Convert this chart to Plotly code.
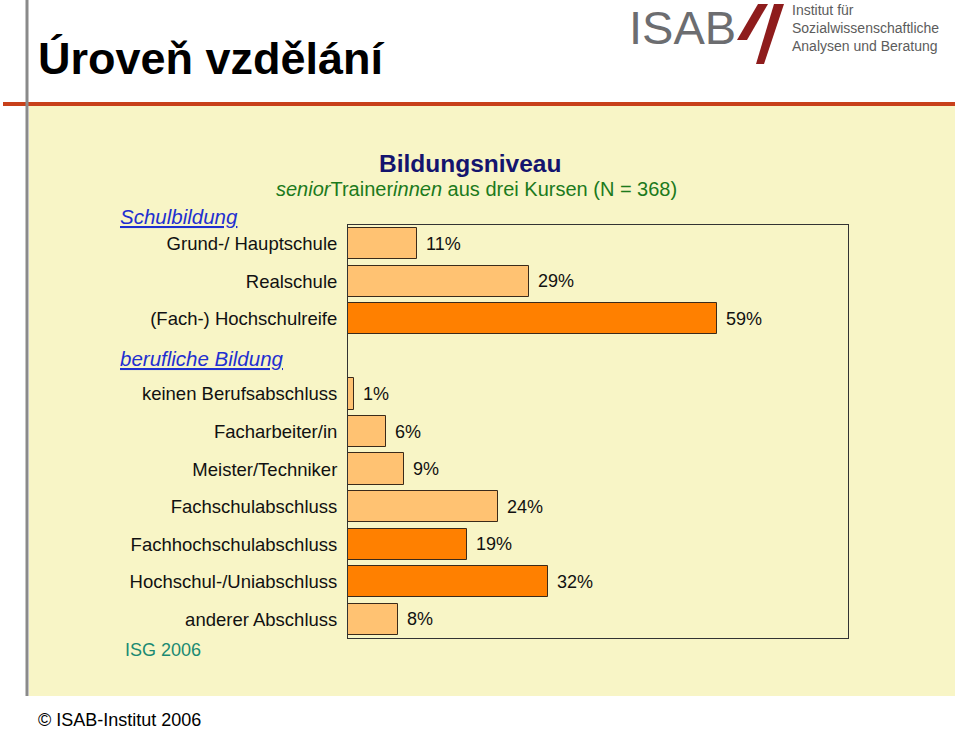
import plotly.graph_objects as go

# ---- data ----
categories = ["Grund-/ Hauptschule", "Realschule", "(Fach-) Hochschulreife",
              "keinen Berufsabschluss", "Facharbeiter/in", "Meister/Techniker",
              "Fachschulabschluss", "Fachhochschulabschluss", "Hochschul-/Uniabschluss",
              "anderer Abschluss"]
values = [11, 29, 59, 1, 6, 9, 24, 19, 32, 8]
slots = [0, 1, 2, 4, 5, 6, 7, 8, 9, 10]
highlight = [False, False, True, False, False, False, False, True, True, False]
section_headers = ["Schulbildung", "berufliche Bildung"]

W, H = 960, 729
L, R, T, B = 348, 848, 225, 638  # plot box in screen pixels

def px(x):
    return (x - L) / (R - L)

def py(y):
    return (B - y) / (B - T)

LIGHT = "#FFC272"
DARK = "#FF8000"
FONT = "Liberation Sans, Arial, sans-serif"

fig = go.Figure()
fig.add_trace(go.Bar(
    x=values, y=slots, orientation="h", width=0.83,
    marker=dict(color=[DARK if h else LIGHT for h in highlight],
                line=dict(color="#3a2a1a", width=1)),
    hoverinfo="skip",
))

annotations = []
for v, s in zip(values, slots):
    annotations.append(dict(x=v, y=s, xref="x", yref="y", text=f"{v}%",
                            showarrow=False, xanchor="left", yanchor="middle",
                            xshift=7, font=dict(size=18, color="#111", family=FONT)))

def ptxt(x, y, text, size, color, xanchor="left", family=FONT):
    annotations.append(dict(x=px(x), y=py(y), xref="paper", yref="paper", text=text,
                            showarrow=False, xanchor=xanchor, yanchor="middle",
                            font=dict(size=size, color=color, family=family)))

ptxt(36, 58, "<b>Úroveň vzdělání</b>", 45, "#000")
ptxt(470, 163, "<b>Bildungsniveau</b>", 24.5, "#14146e", xanchor="center")
ptxt(476, 189, "<i>senior</i>Trainer<i>innen</i> aus drei Kursen (N = 368)", 20, "#1c7a1c", xanchor="center")
ptxt(118, 216, f"<i><u>{section_headers[0]}</u></i>", 20.5, "#1f2fd0")
ptxt(118, 358, f"<i><u>{section_headers[1]}</u></i>", 20.5, "#1f2fd0")
ptxt(123, 650, "ISG 2006", 18, "#1a8a72")
ptxt(36, 720, "© ISAB-Institut 2006", 18, "#000")

# logo
ptxt(627, 27, "ISAB", 47, "#6c6d70")
ptxt(790, 10, "Institut für", 14, "#5c5c5c")
ptxt(790, 28, "Sozialwissenschaftliche", 14, "#5c5c5c")
ptxt(790, 46, "Analysen und Beratung", 14, "#5c5c5c")

shapes = [
    dict(type="rect", xref="paper", yref="paper", x0=px(29), x1=px(955), y0=py(106), y1=py(696),
         fillcolor="#F8F5C6", line=dict(width=0), layer="below"),
    dict(type="line", xref="paper", yref="paper", x0=px(3), x1=px(955), y0=py(104), y1=py(104),
         line=dict(color="#C8401A", width=4)),
    dict(type="line", xref="paper", yref="paper", x0=px(27), x1=px(27), y0=py(0), y1=py(696),
         line=dict(color="#8a8a8a", width=3)),
]
def para(xb0, xb1, yb, xt0, xt1, yt):
    return (f"M {px(xb0)} {py(yb)} L {px(xb1)} {py(yb)} L {px(xt1)} {py(yt)} "
            f"L {px(xt0)} {py(yt)} Z")
shapes.append(dict(type="path", xref="paper", yref="paper", path=para(737, 747, 40, 758, 768, 4),
                   fillcolor="#8e1c1c", line=dict(width=0)))
shapes.append(dict(type="path", xref="paper", yref="paper", path=para(756, 764, 64, 774, 784, 4),
                   fillcolor="#8e1c1c", line=dict(width=0)))

fig.update_layout(
    width=W, height=H,
    margin=dict(l=L, r=W - R, t=T, b=H - B, pad=0),
    paper_bgcolor="white", plot_bgcolor="white",
    showlegend=False, bargap=0,
    font=dict(family=FONT),
    annotations=annotations, shapes=shapes,
    xaxis=dict(range=[0, 80], showticklabels=False, showgrid=False, zeroline=False,
               ticks="", showline=True, mirror=True, linecolor="#333", linewidth=1, fixedrange=True),
    yaxis=dict(range=[10.5, -0.5], tickvals=slots, ticktext=categories, showgrid=False,
               zeroline=False, ticks="outside", ticklen=6, tickcolor="rgba(0,0,0,0)",
               tickfont=dict(size=18.5, color="#111", family=FONT),
               showline=True, mirror=True, linecolor="#333", linewidth=1, fixedrange=True),
)

fig.write_html("out.html", config={"displayModeBar": False},
               post_script="document.body.style.margin='0';document.body.style.overflow='hidden';")
